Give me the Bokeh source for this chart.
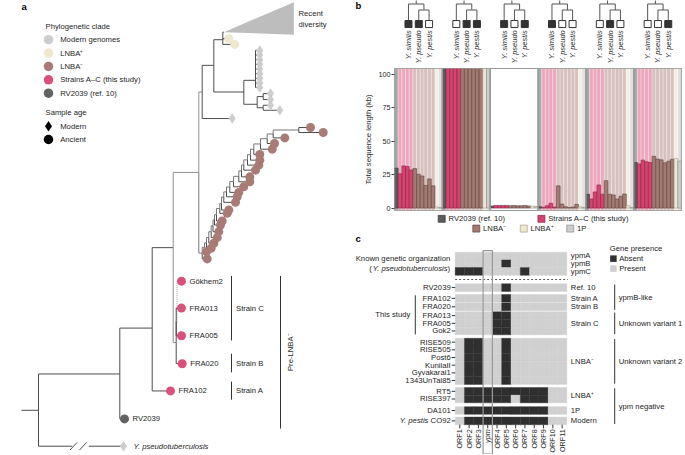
import math
from bokeh.plotting import figure
from bokeh.layouts import row, column
from bokeh.models import Range1d, FixedTicker
from bokeh.core.properties import value
from bokeh.embed import file_html
from bokeh.resources import INLINE

# ============================ DATA ============================
# ---- panel a : legend ----
clade_labels = ["Modern genomes", "LNBA\u207a", "LNBA\u207b", "Strains A\u2013C (this study)", "RV2039 (ref. 10)"]
clade_colors = ["#cdcdcd", "#efe7d0", "#a87c74", "#d9507a", "#626262"]
age_labels = ["Modern", "Ancient"]
age_markers = ["diamond", "circle"]

# ---- panel a : tree (x = divergence position, y = tip order position) ----
node_names = ["R", "N1", "N2", "N3", "NX", "NY", "NZ", "NW", "NV", "NV1", "NV2", "NV2a", "NV2b", "NS", "NC"]
node_x = [38.0, 119.3, 151.7, 172.7, 198.3, 201.7, 213.3, 222.3, 243.3, 255.0, 256.7, 262.7, 262.7, 175.7, 175.7]
node_y = [410.7, 374.3, 328.3, 247.7, 172.3, 91.7, 65.0, 39.3, 91.7, 80.0, 104.0, 96.3, 107.5, 342.7, 322.0]
node_parent = [None, "R", "N1", "N2", "N3", "NX", "NY", "NZ", "NZ", "NV", "NV", "NV2", "NV2", "N3", "NS"]

named_tips = ["Y. pseudotuberculosis", "RV2039", "FRA102", "FRA020", "FRA013", "FRA005", "G\u00f6khem2"]
named_x = [123.0, 124.0, 170.0, 181.7, 181.0, 181.0, 181.0]
named_y = [446.7, 419.3, 391.3, 364.0, 308.3, 336.0, 281.3]
named_parent = ["R", "N1", "N2", "NS", "NC", "NC", "NC"]
named_clade = [0, 4, 3, 3, 3, 3, 3]

lnba_plus_x = [228.3, 234.3]
lnba_plus_y = [38.3, 44.0]

modern_x = [231.7] + [259.3] * 9 + [270.0, 270.0, 270.0, 279.3]
modern_y = [118.3, 50.0, 54.7, 59.3, 64.0, 68.7, 73.3, 78.0, 82.7, 87.3, 93.3, 99.3, 105.0, 110.0]
modern_parent = ["NY"] + ["NV1"] * 9 + ["NV2a", "NV2a", "NV2b", "NV2b"]

# LNBA- ladder, tips from oldest (bottom) to youngest (top)
lnba_minus_x = [206.7, 206.0, 210.7, 213.3, 216.7, 218.3, 220.0, 221.7, 226.7, 228.3, 235.0, 236.7, 238.3,
                243.3, 249.3, 249.3, 255.0, 258.3, 259.3, 259.3, 271.7, 274.0, 284.3, 310.0, 322.7]
lnba_minus_y = [259.0, 251.7, 248.3, 243.3, 237.7, 231.7, 225.0, 221.0, 213.3, 210.0, 202.3, 196.7, 192.3,
                186.7, 181.7, 176.7, 170.0, 165.0, 160.0, 154.3, 149.0, 143.3, 137.7, 127.3, 132.3]
ladder_backbone_x = [201.7, 204.0, 206.0, 208.3, 210.7, 212.5, 214.0, 216.0, 219.3, 221.0, 223.3, 226.0,
                     229.3, 233.0, 238.3, 241.0, 243.3, 247.0, 250.0, 253.3, 260.0, 266.7, 272.7, 298.3]

recent_apex = (223.3, 31.7)
recent_right_x = 293.3
recent_top_bottom = (1.7, 34.3)

strain_groups = ["Strain C", "Strain B", "Strain A"]
strain_spans = [(276.0, 340.7), (354.0, 372.7), (382.0, 400.0)]
pre_lnba_span = (276.0, 429.0)

# ---- panel b ----
species_labels = ["Y. similis", "Y. pseudo", "Y. pestis"]
section_presence = [[1, 1, 0], [0, 1, 1], [1, 0, 1], [1, 0, 0], [0, 1, 0], [0, 0, 1]]
bar_groups = ["RV2039"] + ["Strains"] * 4 + ["LNBA-"] * 6 + ["LNBA+"] + ["1P"]
section_values = [
    [29.8, 25.6, 31.5, 31.0, 28.5, 29.5, 25.3, 24.0, 16.9, 21.8, 16.6, 0.9, 0.3],
    [110.0] * 13,
    [1.6, 2.0, 2.0, 2.0, 2.0, 1.8, 1.9, 1.7, 1.8, 2.0, 1.6, 1.5, 1.2],
    [1.0, 0.6, 1.8, 3.6, 0.8, 16.6, 3.0, 1.0, 0.4, 0.8, 2.8, 1.0, 0.3],
    [10.3, 6.8, 12.1, 17.3, 10.4, 20.5, 10.3, 9.8, 6.8, 8.8, 10.5, 1.8, 0.4],
    [34.0, 33.0, 35.8, 34.6, 34.0, 38.7, 36.6, 36.0, 33.8, 35.0, 36.4, 37.0, 35.0],
]
section_shaded = [True, True, False, True, True, True]
y_ticks_b = [0, 25, 50, 75, 100]
group_bar_color = {"RV2039": "#5c5c5c", "Strains": "#d5446f", "LNBA-": "#a37a72", "LNBA+": "#efe7d1", "1P": "#cdcdcd"}
group_bar_line = {"RV2039": "#333333", "Strains": "#8f2346", "LNBA-": "#5f4642", "LNBA+": "#a9a18a", "1P": "#8d8d8d"}
group_bg_color = {"RV2039": "#a6a6a6", "Strains": "#eca7bc", "LNBA-": "#d7c1bf", "LNBA+": "#f4efe1", "1P": "#e0e0e0"}
legend_b_labels = ["RV2039 (ref. 10)", "Strains A\u2013C (this study)", "LNBA\u207b", "LNBA\u207a", "1P"]
legend_b_groups = ["RV2039", "Strains", "LNBA-", "LNBA+", "1P"]

# ---- panel c ----
orf_labels = ["ORF1", "ORF2", "ORF3", "ypm", "ORF4", "ORF5", "ORF6", "ORF7", "ORF8", "ORF9", "ORF10", "ORF11"]
known_rows = ["ypmA", "ypmB", "ypmC"]
known_matrix = [
    [0, 0, 0, 0, 0, 0, 0, 0, 0, 0, 0, 0],
    [0, 0, 0, 0, 0, 1, 0, 0, 0, 0, 0, 0],
    [1, 1, 1, 0, 0, 0, 0, 1, 0, 0, 0, 0],
]
sample_names = ["RV2039", "FRA102", "FRA020", "FRA013", "FRA005", "Gok2", "RISE509", "RISE505", "Post6",
                "KunilaII", "Gyvakarai1", "1343UnTal85", "RT5", "RISE397", "DA101", "Y. pestis CO92"]
sample_matrix = [
    [0, 0, 0, 0, 0, 1, 0, 0, 0, 0, 0, 0],
    [0, 0, 0, 0, 0, 1, 0, 0, 0, 0, 0, 0],
    [0, 0, 0, 0, 0, 1, 0, 0, 0, 0, 0, 0],
    [0, 0, 0, 0, 1, 1, 0, 0, 0, 0, 0, 0],
    [0, 0, 0, 0, 1, 1, 0, 0, 0, 0, 0, 0],
    [0, 0, 0, 0, 1, 1, 0, 0, 0, 0, 0, 0],
    [0, 1, 1, 0, 0, 1, 0, 0, 0, 0, 0, 0],
    [0, 1, 1, 0, 0, 1, 0, 0, 0, 0, 0, 0],
    [0, 1, 1, 0, 0, 1, 0, 0, 0, 0, 0, 0],
    [0, 1, 1, 0, 0, 1, 0, 0, 0, 0, 0, 0],
    [0, 1, 1, 0, 0, 1, 0, 0, 0, 0, 0, 0],
    [0, 1, 1, 0, 0, 1, 0, 0, 0, 0, 0, 0],
    [0, 1, 1, 1, 1, 1, 1, 1, 1, 1, 0, 0],
    [0, 1, 1, 1, 1, 1, 0, 1, 1, 1, 0, 0],
    [0, 1, 1, 1, 1, 1, 1, 1, 1, 1, 0, 0],
    [0, 1, 1, 1, 1, 1, 1, 1, 1, 1, 0, 0],
]
sample_row_top = [4.1, 5.5, 6.6, 7.75, 8.75, 9.75, 11.2, 12.2, 13.2, 14.2, 15.2, 16.2, 17.6, 18.6, 20.1, 21.45]
row_group_labels = ["Ref. 10", "Strain A", "Strain B", "Strain C", "LNBA\u207b", "LNBA\u207a", "1P", "Modern"]
row_group_members = [[0], [1], [2], [3, 4, 5], [6, 7, 8, 9, 10, 11], [12, 13], [14], [15]]
variant_labels = ["ypmB-like", "Unknown variant 1", "Unknown variant 2", "ypm negative"]
variant_members = [[0, 1, 2], [3, 4, 5], [6, 7, 8, 9, 10, 11], [12, 13, 14, 15]]
presence_labels = ["Absent", "Present"]
presence_colors = ["#2f2f2f", "#d0d0d0"]

# ============================ LAYOUT ============================
TOTAL_W, TOTAL_H = 684, 454
REF_W, REF_H = 685.0, 455.0
SX, SY = TOTAL_W / REF_W, TOTAL_H / REF_H
A_W = round(340 * SX)
R_W = TOTAL_W - A_W
SXR = R_W / 345.0
BT_H = round(68 * SY)
BM_BOTTOM = 4
BM_H = round(142 * SY) + BM_BOTTOM
C_H = TOTAL_H - BT_H - BM_H
FONT = value("Liberation Sans")
FS = "7.7px"
TC = "#1e1e1e"
LC = "#4d4d4d"
FRAME_L, FRAME_R = round(54 * SXR), round(3 * SXR)


def no_align(p):
    if "frame_align" in p.properties():
        p.frame_align = False
    return p


def txt(p, xs, ys, texts, size=FS, align="left", baseline="middle", color=TC, style="normal", angle=0.0):
    p.text(x=list(xs), y=list(ys), text=list(texts), text_font=FONT, text_font_size=size,
           text_align=align, text_baseline=baseline, text_color=color, text_font_style=style, angle=angle)


def base_fig(w, h, xr, yr, **kw):
    p = figure(width=w, height=h, x_range=xr, y_range=yr, toolbar_location=None, output_backend="svg",
               x_axis_type=None, y_axis_type=None, min_border=0, **kw)
    p.outline_line_color = None
    p.background_fill_color = "white"
    p.border_fill_color = "white"
    return no_align(p)


# ============================ PANEL A ============================
pA = base_fig(A_W, TOTAL_H, Range1d(0, 340), Range1d(455, 0))
pos = {n: (x, y) for n, x, y in zip(node_names, node_x, node_y)}
sx0, sy0, sx1, sy1, scol = [], [], [], [], []


def edge(parent, cx, cy, color=LC):
    px, py = pos[parent]
    sx0.extend([px, px]); sy0.extend([py, cy]); sx1.extend([px, cx]); sy1.extend([cy, cy])
    scol.extend([color, color])


for n, par in zip(node_names, node_parent):
    if par is not None:
        edge(par, *pos[n], color="#8f8f8f" if par in ("N3", "NX") else LC)
for i, (x, y, par) in enumerate(zip(named_x, named_y, named_parent)):
    if i == 0 or named_tips[i].startswith("G"):
        continue
    edge(par, x, y)
for x, y in zip(lnba_plus_x, lnba_plus_y):
    edge("NW", x, y)
edge("NW", recent_apex[0], recent_apex[1])
for x, y, par in zip(modern_x, modern_y, modern_parent):
    edge(par, x, y)
nlad = len(ladder_backbone_x)
lad_y = [0.0] * nlad
lad_y[-1] = (lnba_minus_y[-2] + lnba_minus_y[-1]) / 2
for k in range(nlad - 2, -1, -1):
    lad_y[k] = (lnba_minus_y[k] + lad_y[k + 1]) / 2
for k in range(nlad):
    pos["L%d" % k] = (ladder_backbone_x[k], lad_y[k])
    edge("NX" if k == 0 else "L%d" % (k - 1), ladder_backbone_x[k], lad_y[k], color="#777777")
    edge("L%d" % k, lnba_minus_x[k], lnba_minus_y[k])
edge("L%d" % (nlad - 1), lnba_minus_x[-1], lnba_minus_y[-1])

gx, gy = pos["NC"]
pA.segment(x0=[gx + 0.8], y0=[gy], x1=[gx + 0.8], y1=[named_y[6]], line_color="#9a9a9a", line_dash="1 1", line_width=1)
pA.segment(x0=[gx + 0.8], y0=[named_y[6]], x1=[named_x[6]], y1=[named_y[6]], line_color=LC, line_width=1)

rx, ry = pos["R"]
yp_x, yp_y = named_x[0], named_y[0]
sx0 += [rx, rx, 88.3]; sy0 += [ry, yp_y, yp_y]; sx1 += [rx, 71.7, yp_x]; sy1 += [yp_y, yp_y, yp_y]
scol += [LC, LC, LC]
sx0 += [69.5, 79.0]; sy0 += [450.5, 450.5]; sx1 += [76.5, 86.0]; sy1 += [443.0, 443.0]; scol += [LC, LC]
sx0.append(21.0); sy0.append(ry); sx1.append(rx); sy1.append(ry); scol.append(LC)

pA.segment(x0=sx0, y0=sy0, x1=sx1, y1=sy1, line_color=scol, line_width=1)

pA.patch(x=[recent_apex[0], recent_right_x, recent_right_x], y=[recent_apex[1], recent_top_bottom[0], recent_top_bottom[1]],
         fill_color="#bdbdbd", line_color=None)
txt(pA, [298.0, 298.0], [13.0, 24.5], ["Recent", "diversity"])

pA.scatter(modern_x + [named_x[0]], modern_y + [named_y[0]], marker="diamond", size=10.5,
           fill_color=clade_colors[0], line_color=None)
pA.scatter(lnba_plus_x, lnba_plus_y, marker="circle", size=9, fill_color=clade_colors[1], line_color=None)
pA.scatter(lnba_minus_x, lnba_minus_y, marker="circle", size=9, fill_color=clade_colors[2], line_color=None)
pA.scatter(named_x[1:], named_y[1:], marker="circle", size=9,
           fill_color=[clade_colors[c] for c in named_clade[1:]], line_color=None)

txt(pA, [x + 8 for x in named_x[1:]], named_y[1:], named_tips[1:])
txt(pA, [named_x[0] + 10], [named_y[0]], [named_tips[0]], style="italic")

bx = 231.0
pA.segment(x0=[bx] * 3, y0=[s[0] for s in strain_spans], x1=[bx] * 3, y1=[s[1] for s in strain_spans],
           line_color="#333333", line_width=1)
txt(pA, [bx + 4.5] * 3, [(s[0] + s[1]) / 2 for s in strain_spans], strain_groups)
pA.segment(x0=[280.0], y0=[pre_lnba_span[0]], x1=[280.0], y1=[pre_lnba_span[1]], line_color="#333333", line_width=1)
txt(pA, [290.0], [(pre_lnba_span[0] + pre_lnba_span[1]) / 2], ["Pre-LNBA\u207b"], align="center", angle=math.pi / 2)

txt(pA, [21.0], [6.0], ["a"], size="9.5px", style="bold", color="#000000")
txt(pA, [45.0], [25.7], ["Phylogenetic clade"])
leg_y = [39.3 + 13.4 * i for i in range(len(clade_labels))]
pA.scatter([48.0] * len(clade_labels), leg_y, marker="circle", size=9.5, fill_color=clade_colors, line_color=None)
txt(pA, [59.7] * len(clade_labels), leg_y, clade_labels)
txt(pA, [45.0], [112.3], ["Sample age"])
age_y = [126.0, 139.3]
for m, y in zip(age_markers, age_y):
    pA.scatter([48.0], [y], marker=m, size=10.5 if m == "diamond" else 9.5, fill_color="#000000", line_color=None)
txt(pA, [59.7, 59.7], age_y, age_labels)

# ============================ PANEL B ============================
NB = len(bar_groups)
NS = len(section_values)
px_per_u = (R_W - FRAME_L - FRAME_R) / (NB * NS)


def ubx(r):  # reference x -> bar units
    return ((r - 340) * SXR - FRAME_L) / px_per_u


pBm = figure(width=R_W, height=BM_H, x_range=Range1d(0, NB * NS), y_range=Range1d(-1.8, 104.2),
             toolbar_location=None, output_backend="svg", x_axis_type=None,
             min_border_left=FRAME_L, min_border_right=FRAME_R, min_border_top=0, min_border_bottom=BM_BOTTOM)
no_align(pBm)
pBm.grid.visible = False
pBm.outline_line_color = "#9a9a9a"
ax = pBm.yaxis[0]
ax.ticker = FixedTicker(ticks=y_ticks_b)
ax.axis_line_color = None
ax.major_tick_line_color = "#444444"
ax.major_tick_out = 3
ax.major_tick_in = 0
ax.minor_tick_line_color = None
ax.major_label_text_font = "Liberation Sans"
ax.major_label_text_font_size = "7.2px"
ax.major_label_text_color = TC
ax.major_label_standoff = 1
ax.axis_label = "Total sequence length (kb)"
ax.axis_label_text_font = "Liberation Sans"
ax.axis_label_text_font_size = FS
ax.axis_label_text_font_style = "normal"
ax.axis_label_text_color = TC
ax.axis_label_standoff = 3

bg_x, bg_c, bar_x, bar_top, bar_c, bar_l = [], [], [], [], [], []
for s, vals in enumerate(section_values):
    for j, v in enumerate(vals):
        g = bar_groups[j]
        xx = s * NB + j + 0.5
        if section_shaded[s]:
            bg_x.append(xx); bg_c.append(group_bg_color[g])
        bar_x.append(xx); bar_top.append(v); bar_c.append(group_bar_color[g]); bar_l.append(group_bar_line[g])
pBm.vbar(x=bg_x, top=104.2, bottom=-1.8, width=1.0, fill_color=bg_c, line_color="white", line_width=0.5, line_alpha=0.55)
pBm.vbar(x=bar_x, top=bar_top, bottom=0, width=1.0, fill_color=bar_c, line_color=bar_l, line_width=0.6)
pBm.quad(left=[s * NB for s in range(NS)], right=[s * NB + NB for s in range(NS)], bottom=-1.8, top=104.2,
         fill_color=None, line_color="#9a9a9a", line_width=1.2)

# cladograms above (full-width frame, x in bar units)
pBt = base_fig(R_W, BT_H, Range1d(ubx(340), ubx(685)), Range1d(BT_H / SY, 0))
offs = [3.8, 6.6, 9.4]
cx0, cy0, cx1, cy1, sqx, sqf, labx, labt = [], [], [], [], [], [], [], []
for s, pres in enumerate(section_presence):
    b = s * NB
    xl, xm, xr = b + offs[0], b + offs[1], b + offs[2]
    xrc = (xm + xr) / 2
    xroot = (xl + xrc) / 2
    segs = [(xroot, -2, xroot, 3.5), (xl, 3.5, xrc, 3.5), (xl, 3.5, xl, 20), (xrc, 3.5, xrc, 9.5),
            (xm, 9.5, xr, 9.5), (xm, 9.5, xm, 20), (xr, 9.5, xr, 20)]
    for a0, b0, a1, b1 in segs:
        cx0.append(a0); cy0.append(b0); cx1.append(a1); cy1.append(b1)
    for k, xx in enumerate((xl, xm, xr)):
        sqx.append(xx); sqf.append("#333333" if pres[k] else "white")
        labx.append(xx); labt.append(species_labels[k])
pBt.segment(x0=cx0, y0=cy0, x1=cx1, y1=cy1, line_color="#555555", line_width=1)
pBt.scatter(sqx, [23.6] * len(sqx), marker="square", size=7, fill_color=sqf, line_color="#333333", line_width=1)
txt(pBt, labx, [29.8] * len(labx), labt, size="7.5px", align="right", style="italic", angle=math.pi / 2)
txt(pBt, [ubx(355)], [5.5], ["b"], size="9.5px", style="bold", color="#000000")

# ============================ PANEL C ============================
C_TOP_REF = (BT_H + BM_H) / SY


def ux(r):
    return (r - 459.67) / 9.33


def uy(r):
    return (r - 252.3) / 7.7


pC = base_fig(R_W, C_H, Range1d(ux(340), ux(685)), Range1d(uy(455), uy(C_TOP_REF)))
u_per_px = 1.0 / (9.33 * SXR)

leg_sq_ref = [(441.5, 218.8), (541.5, 218.8), (476.2, 228.6), (523.8, 228.6), (570.4, 228.6)]
pC.scatter([ux(a) for a, _ in leg_sq_ref], [uy(b) for _, b in leg_sq_ref], marker="square", size=7,
           fill_color=[group_bar_color[g] for g in legend_b_groups],
           line_color=[group_bar_line[g] for g in legend_b_groups], line_width=0.7)
txt(pC, [ux(a + 6.8) for a, _ in leg_sq_ref], [uy(b) for _, b in leg_sq_ref], legend_b_labels)

txt(pC, [ux(355)], [uy(239)], ["c"], size="9.5px", style="bold", color="#000000")

hx, hy, hc = [], [], []
for r, rowv in enumerate(known_matrix):
    for c, v in enumerate(rowv):
        hx.append(c); hy.append(r + 0.5); hc.append(presence_colors[0] if v else presence_colors[1])
for r, rowv in enumerate(sample_matrix):
    for c, v in enumerate(rowv):
        hx.append(c); hy.append(sample_row_top[r] + 0.5); hc.append(presence_colors[0] if v else presence_colors[1])
pC.rect(x=hx, y=hy, width=1, height=1, fill_color=hc, line_color=hc, line_width=0.4)

pC.segment(x0=[-0.5], y0=[3.55], x1=[ux(568)], y1=[3.55], line_color="#555555", line_dash="2 2", line_width=1)
pC.quad(left=[2.5], right=[3.5], top=[-0.2], bottom=[uy(454.5)], fill_color=None, line_color="#9a9a9a", line_width=1.2)

ncol = len(orf_labels)
lab_r = ux(450.5)
centers = [t + 0.5 for t in sample_row_top]
pC.segment(x0=[ux(451.5)] * len(centers), y0=centers, x1=[-0.5] * len(centers), y1=centers, line_color="#333333", line_width=1)
txt(pC, [lab_r] * (len(sample_names) - 1), centers[:-1], sample_names[:-1], align="right")


def wpx(s, fs=7.7):
    W = {'C': 722, 'O': 778, '9': 556, '2': 556, ' ': 278, '(': 333, ')': 333, 'Y': 667, '.': 278, 'p': 556,
         's': 500, 'e': 556, 'u': 556, 'd': 556, 'o': 556, 't': 278, 'b': 556, 'r': 333, 'c': 500, 'l': 222, 'i': 222}
    return sum(W.get(ch, 556) for ch in s) / 1000.0 * fs


last = sample_names[-1]
it_part, rm_part = last.split(" CO")[0], "CO" + last.split(" CO")[1]
txt(pC, [lab_r], [centers[-1]], [rm_part], align="right")
txt(pC, [lab_r - wpx(" " + rm_part) * u_per_px], [centers[-1]], [it_part], align="right", style="italic")

kr = ux(450.0)
txt(pC, [kr], [uy(258.3)], ["Known genetic organization"], align="right")
ky = uy(268.3)
txt(pC, [kr], [ky], [")"], align="right")
txt(pC, [kr - wpx(")") * u_per_px], [ky], ["Y. pseudotuberculosis"], align="right", style="italic")
txt(pC, [kr - (wpx(")") + wpx("Y. pseudotuberculosis")) * u_per_px], [ky], ["("], align="right")

ts_x = ux(415.0)
pC.segment(x0=[ts_x], y0=[sample_row_top[1] + 0.1], x1=[ts_x], y1=[sample_row_top[5] + 0.95], line_color="#333333", line_width=1)
txt(pC, [ux(410.0)], [(sample_row_top[1] + sample_row_top[5] + 1) / 2], ["This study"], align="right")

rl = ux(571.0)
txt(pC, [rl] * 3, [0.45, 1.45, 2.45], known_rows)
gy_c = [sum(centers[i] for i in m) / len(m) for m in row_group_members]
txt(pC, [rl] * len(row_group_labels), gy_c, row_group_labels)
vx = ux(615.0)
v_top = [sample_row_top[m[0]] + 0.1 for m in variant_members]
v_bot = [sample_row_top[m[-1]] + 0.9 for m in variant_members]
pC.segment(x0=[vx] * 4, y0=v_top, x1=[vx] * 4, y1=v_bot, line_color="#333333", line_width=1)
txt(pC, [ux(619.0)] * 4, [(a + b) / 2 for a, b in zip(v_top, v_bot)], variant_labels)

txt(pC, [ux(610.0)], [uy(249.0)], ["Gene presence"])
gp_y = [uy(258.7), uy(268.7)]
pC.scatter([ux(613.7)] * 2, gp_y, marker="square", size=6.5, fill_color=presence_colors, line_color=None)
txt(pC, [ux(619.5)] * 2, gp_y, presence_labels)

bot = sample_row_top[-1] + 1.0
pC.segment(x0=list(range(ncol)), y0=[bot] * ncol, x1=list(range(ncol)), y1=[uy(428.8)] * ncol,
           line_color="#333333", line_width=1)
for c, l in enumerate(orf_labels):
    txt(pC, [c], [uy(429.8)], [l], size="7.2px", align="right", style="italic" if l == "ypm" else "normal",
        angle=math.pi / 2)

layout = row(pA, column(pBt, pBm, pC))
open("out.html", "w").write(file_html(layout, INLINE))
